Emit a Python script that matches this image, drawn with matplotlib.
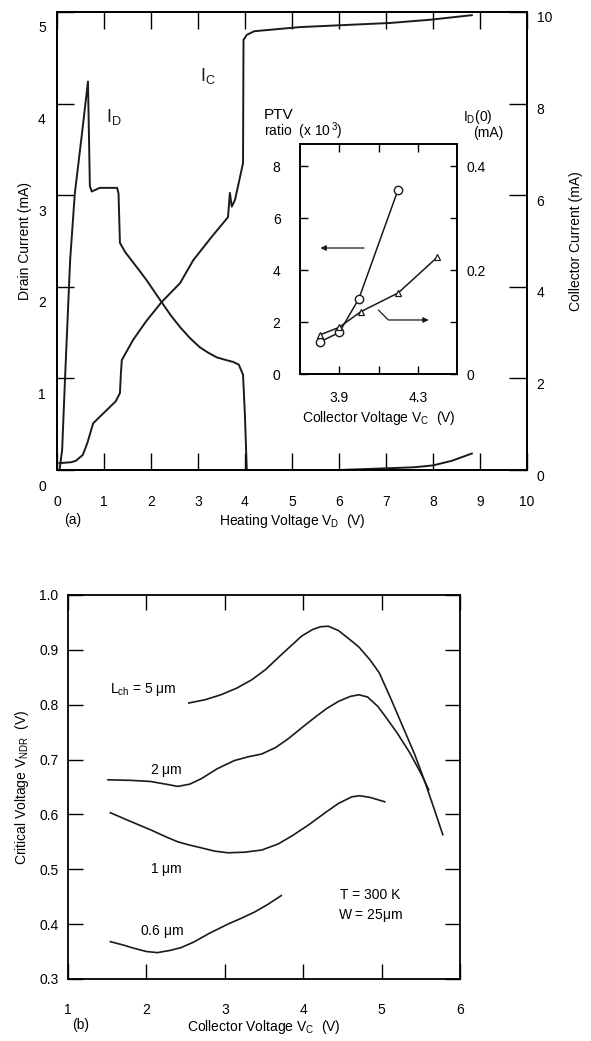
import numpy as np
import matplotlib
matplotlib.use("Agg")
import matplotlib.pyplot as plt
from matplotlib.transforms import ScaledTranslation

plt.rcParams['font.family'] = ['Liberation Sans', 'DejaVu Sans']
plt.rcParams['mathtext.fontset'] = 'custom'
plt.rcParams['mathtext.rm'] = 'Liberation Sans'
plt.rcParams['mathtext.it'] = 'Liberation Sans'
plt.rcParams['font.size'] = 10

INK = '#1a1a1a'

# ---- panel (a): drain / collector current vs heating voltage
vd_id = [0.06, 0.11, 0.17, 0.28, 0.38, 0.52, 0.66, 0.70, 0.74, 0.91, 1.28, 1.31, 1.34,
         1.45, 1.60, 1.75, 1.91, 2.07, 2.23, 2.42, 2.62, 2.83, 3.04, 3.22, 3.40, 3.60,
         3.75, 3.87, 3.96, 4.00, 4.04, 5.0, 6.0, 7.09, 7.6, 8.0, 8.4, 8.83]
i_d = [0.02, 0.22, 0.98, 2.29, 3.02, 3.62, 4.24, 3.10, 3.04, 3.08, 3.08, 3.02, 2.48,
       2.38, 2.28, 2.18, 2.07, 1.95, 1.83, 1.69, 1.56, 1.44, 1.34, 1.28, 1.23, 1.20,
       1.18, 1.15, 1.04, 0.6, 0.0, 0.0, 0.0, 0.02, 0.03, 0.05, 0.10, 0.18]

vd_ic = [0.05, 0.3, 0.4, 0.55, 0.65, 0.77, 0.9, 1.13, 1.25, 1.34, 1.36, 1.38, 1.5, 1.62,
         1.9, 2.23, 2.62, 2.9, 3.3, 3.64, 3.68, 3.72, 3.79, 3.96, 3.97, 4.04, 4.2, 5.17,
         7.09, 7.94, 8.83]
i_c = [0.15, 0.17, 0.2, 0.33, 0.6, 1.02, 1.15, 1.38, 1.5, 1.68, 2.1, 2.4, 2.62, 2.84,
       3.25, 3.67, 4.08, 4.58, 5.1, 5.52, 6.05, 5.75, 5.9, 6.7, 9.39, 9.50, 9.58, 9.67,
       9.76, 9.83, 9.93]

# inset
vc_ptv = [3.80, 3.90, 4.00, 4.20]
ptv = [1.23, 1.6, 2.9, 7.1]
vc_id0 = [3.80, 3.90, 4.01, 4.20, 4.40]
id0 = [0.075, 0.09, 0.12, 0.156, 0.225]

# ---- panel (b): critical voltage vs collector voltage
vc_5 = [2.54, 2.75, 2.95, 3.15, 3.34, 3.52, 3.69, 3.85, 3.98, 4.12, 4.22, 4.32, 4.45,
        4.6, 4.71, 4.85, 4.97, 5.12, 5.27, 5.42, 5.55, 5.67, 5.78]
vn_5 = [0.803, 0.809, 0.818, 0.83, 0.845, 0.864, 0.887, 0.908, 0.925, 0.937, 0.942,
        0.943, 0.935, 0.918, 0.905, 0.882, 0.858, 0.81, 0.76, 0.71, 0.66, 0.61, 0.563]
vc_2 = [1.51, 1.8, 2.05, 2.25, 2.4, 2.55, 2.7, 2.9, 3.12, 3.3, 3.47, 3.65, 3.81, 4.0,
        4.15, 4.3, 4.45, 4.6, 4.71, 4.82, 4.95, 5.05, 5.2, 5.36, 5.5, 5.60]
vn_2 = [0.663, 0.662, 0.66, 0.655, 0.651, 0.655, 0.665, 0.683, 0.698, 0.705, 0.710,
        0.722, 0.738, 0.76, 0.777, 0.793, 0.806, 0.815, 0.818, 0.814, 0.797, 0.778,
        0.748, 0.712, 0.675, 0.645]
vc_1 = [1.54, 1.8, 2.05, 2.25, 2.4, 2.55, 2.7, 2.87, 3.04, 3.25, 3.47, 3.68, 3.87,
        4.08, 4.28, 4.45, 4.62, 4.72, 4.85, 5.04]
vn_1 = [0.603, 0.587, 0.572, 0.559, 0.55, 0.544, 0.539, 0.533, 0.530, 0.531, 0.535,
        0.546, 0.562, 0.582, 0.603, 0.62, 0.632, 0.634, 0.631, 0.623]
vc_06 = [1.54, 1.7, 1.84, 2.0, 2.14, 2.3, 2.44, 2.6, 2.8, 3.04, 3.2, 3.38, 3.55, 3.72]
vn_06 = [0.368, 0.362, 0.356, 0.35, 0.348, 0.352, 0.357, 0.367, 0.383, 0.40, 0.41,
         0.422, 0.436, 0.452]

fig = plt.figure(figsize=(5.91, 10.41), dpi=100)


def shift_labels(labels, dx, dy):
    for lab in labels:
        lab.set_transform(lab.get_transform() + ScaledTranslation(dx / 100, dy / 100, fig.dpi_scale_trans))


# panel (a)
ax = fig.add_axes([0.0964, 0.5485, 0.795, 0.440])
ax.plot(vd_id, i_d, color=INK, lw=1.4)
ax.set_xlim(0, 10)
ax.set_ylim(0, 5)
ax.set_xticks(range(0, 11))
ax.set_yticks(range(0, 6))
ax.tick_params(axis='x', direction='in', length=12, width=1, top=True, pad=18)
ax.tick_params(axis='y', direction='in', length=12, width=1, pad=8)
shift_labels(ax.get_yticklabels(), 0, -15)
ax.set_ylabel('Drain Current (mA)', labelpad=4)
ax.set_xlabel(r'Heating Voltage V$_{\rm D}$  (V)', labelpad=2)
ax.text(1.05, 3.80, r'I$_{\rm D}$', fontsize=13, color=INK)
ax.text(3.05, 4.25, r'I$_{\rm C}$', fontsize=13, color=INK)
ax.text(0.015, -0.11, '(a)', transform=ax.transAxes, fontsize=10, va='center')

ax2 = ax.twinx()
ax2.plot(vd_ic, i_c, color=INK, lw=1.4)
ax2.set_ylim(0, 10)
ax2.set_yticks(range(0, 11, 2))
ax2.tick_params(axis='y', direction='in', length=13, width=1, pad=7)
shift_labels(ax2.get_yticklabels(), 0, -5)
ax2.set_ylabel('Collector Current (mA)', rotation=90, labelpad=12)

for a in (ax, ax2):
    for s in a.spines.values():
        s.set_linewidth(1.3)

# inset
ins = fig.add_axes([0.5076, 0.6407, 0.2657, 0.2209])
ins.plot(vc_ptv, ptv, color=INK, lw=1.1, marker='o', ms=6, mfc='white', mec=INK, mew=1)
ins.set_xlim(3.7, 4.5)
ins.set_ylim(0, 8.85)
ins.set_xticks([3.9, 4.1, 4.3])
ins.set_xticklabels(['3.9', '', '4.3'])
ins.set_yticks([0, 2, 4, 6, 8])
ins.tick_params(axis='x', direction='in', length=6, width=1, top=True, pad=12)
ins.tick_params(axis='y', direction='in', length=6, width=1, pad=14)
ins.set_xlabel(r'Collector Voltage V$_{\rm C}$  (V)', labelpad=3)
ins.annotate('', xy=(3.79, 4.85), xytext=(4.04, 4.85),
             arrowprops=dict(arrowstyle='-|>', color=INK, lw=0.9, mutation_scale=8))
ins.plot([4.10, 4.15, 4.28], [2.46, 2.08, 2.08], color=INK, lw=0.9)
ins.annotate('', xy=(4.37, 2.08), xytext=(4.27, 2.08),
             arrowprops=dict(arrowstyle='-|>', color=INK, lw=0.9, mutation_scale=8))
ins.text(-0.23, 1.11, 'PTV', transform=ins.transAxes, fontsize=11)
ins.text(-0.23, 1.035, r'ratio  (x 10$^{\,3}$)', transform=ins.transAxes, fontsize=10)

ins2 = ins.twinx()
ins2.plot(vc_id0, id0, color=INK, lw=1.1, marker='^', ms=4.5, mfc='white', mec=INK, mew=0.9)
ins2.set_ylim(0, 0.4425)
ins2.set_yticks([0, 0.1, 0.2, 0.3, 0.4])
ins2.set_yticklabels(['0', '', '0.2', '', '0.4'])
ins2.tick_params(axis='y', direction='in', length=5, width=1, pad=7)
ins2.text(1.04, 1.10, r'I$_{\rm D}$(0)', transform=ins2.transAxes, fontsize=10)
ins2.text(1.10, 1.03, '(mA)', transform=ins2.transAxes, fontsize=10)
for a in (ins, ins2):
    for s in a.spines.values():
        s.set_linewidth(1.2)

# panel (b)
bx = fig.add_axes([0.1151, 0.0596, 0.6633, 0.3689])
for xs, ys in ((vc_5, vn_5), (vc_2, vn_2), (vc_1, vn_1), (vc_06, vn_06)):
    bx.plot(xs, ys, color=INK, lw=1.2)
bx.set_xlim(1, 6)
bx.set_ylim(0.3, 1.0)
bx.set_xticks(range(1, 7))
bx.set_yticks(np.arange(0.3, 1.01, 0.1))
bx.set_yticklabels(['0.3', '0.4', '0.5', '0.6', '0.7', '0.8', '0.9', '1.0'])
bx.tick_params(axis='x', direction='in', length=11, width=1, top=True, pad=17)
bx.tick_params(axis='y', direction='in', length=11, width=1, right=True, pad=7)
bx.set_ylabel(r'Critical Voltage V$_{\rm NDR}$  (V)', labelpad=6)
bx.set_xlabel(r'Collector Voltage V$_{\rm C}$  (V)', labelpad=1)
bx.text(1.54, 0.822, r'L$_{\rm ch}$ = 5 $\mu$m', fontsize=10)
bx.text(2.05, 0.673, r'2 $\mu$m', fontsize=10)
bx.text(2.05, 0.493, r'1 $\mu$m', fontsize=10)
bx.text(1.92, 0.381, r'0.6 $\mu$m', fontsize=10)
bx.text(4.86, 0.453, 'T = 300 K', fontsize=10, ha='center', va='center')
bx.text(4.86, 0.415, r'W = 25$\mu$m', fontsize=10, ha='center', va='center')
bx.text(0.01, -0.12, '(b)', transform=bx.transAxes, fontsize=10, va='center')
for s in bx.spines.values():
    s.set_linewidth(1.3)

fig.savefig('out.png', dpi=100)
